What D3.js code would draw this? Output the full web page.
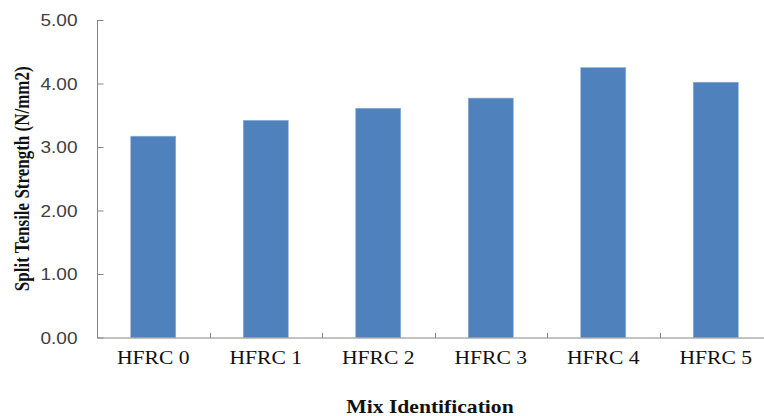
<!DOCTYPE html>
<html>
<head>
<meta charset="utf-8">
<script src="https://cdn.jsdelivr.net/npm/d3@7"></script>
<style>
  html, body { margin: 0; padding: 0; background: #fff; }
  svg { display: block; }
</style>
</head>
<body>
<svg id="chart" width="764" height="416"></svg>
<script>
// Split tensile strength per mix
const categories = ["HFRC 0", "HFRC 1", "HFRC 2", "HFRC 3", "HFRC 4", "HFRC 5"];
const strength = [3.17, 3.42, 3.61, 3.77, 4.25, 4.02];
const yTicks = [0, 1, 2, 3, 4, 5];
const yTitle = "Split Tensile Strength (N/mm2)";
const xTitle = "Mix Identification";

const svg = d3.select("#chart");
const plotLeft = 97, plotRight = 772, plotTop = 20, plotBottom = 337.5;
const stretch = 1.2; // wide text rendering

const x = d3.scaleBand().domain(categories).range([plotLeft, plotRight]).paddingInner(0.6).paddingOuter(0.3);
const y = d3.scaleLinear().domain([0, 5]).range([plotBottom, plotTop]);

// bars
svg.append("g").selectAll("rect")
  .data(categories)
  .join("rect")
  .attr("x", d => x(d))
  .attr("width", x.bandwidth())
  .attr("y", (d, i) => y(strength[i]))
  .attr("height", (d, i) => y(0) - y(strength[i]))
  .attr("fill", "#4F81BD")
  .attr("stroke", "#8EAED8")
  .attr("stroke-width", 0.6);

const axisColor = "#868686";

// y axis (ticks point inward)
const yAxis = svg.append("g")
  .attr("transform", `translate(${plotLeft + 0.5},0)`)
  .call(d3.axisRight(y).tickValues(yTicks).tickSize(6).tickFormat(d3.format(".2f")));
yAxis.select(".domain").attr("stroke", axisColor).attr("d", `M0,${plotTop}V${plotBottom}`);
yAxis.selectAll(".tick line").attr("stroke", axisColor);
yAxis.selectAll(".tick text")
  .attr("text-anchor", "end")
  .attr("x", -20 / 1.12)
  .attr("dy", "0.34em")
  .attr("transform", "scale(1.12,1)")
  .attr("font-family", "'Liberation Sans', Arial, sans-serif")
  .attr("font-size", 17)
  .attr("fill", "#404040");

// x axis with boundary ticks pointing up
const xAxis = svg.append("g").attr("transform", `translate(0,${plotBottom + 0.5})`);
xAxis.append("line")
  .attr("x1", plotLeft).attr("x2", plotRight)
  .attr("stroke", axisColor);
const step = x.step();
const bounds = d3.range(1, categories.length).map(i => x(categories[i]) - (step - x.bandwidth()) / 2);
xAxis.selectAll("line.sep")
  .data(bounds)
  .join("line")
  .attr("class", "sep")
  .attr("x1", d => Math.round(d) + 0.5).attr("x2", d => Math.round(d) + 0.5)
  .attr("y1", 0).attr("y2", -5)
  .attr("stroke", axisColor);

// category labels
svg.append("g").selectAll("text")
  .data(categories)
  .join("text")
  .attr("transform", d => `translate(${x(d) + x.bandwidth() / 2},364) scale(${stretch},1)`)
  .attr("text-anchor", "middle")
  .attr("font-family", "'Liberation Serif', 'Times New Roman', serif")
  .attr("font-size", 18)
  .attr("fill", "#111")
  .text(d => d);

// axis titles
svg.append("text")
  .attr("transform", `translate(430,413) scale(${stretch},1)`)
  .attr("text-anchor", "middle")
  .attr("font-family", "'Liberation Serif', 'Times New Roman', serif")
  .attr("font-weight", "bold")
  .attr("font-size", 18)
  .attr("fill", "#111")
  .text(xTitle);

svg.append("text")
  .attr("transform", `translate(29,${(plotTop + plotBottom) / 2}) scale(${stretch},1) rotate(-90)`)
  .attr("text-anchor", "middle")
  .attr("font-family", "'Liberation Serif', 'Times New Roman', serif")
  .attr("font-weight", "bold")
  .attr("font-size", 17)
  .attr("fill", "#111")
  .text(yTitle);
</script>
</body>
</html>
